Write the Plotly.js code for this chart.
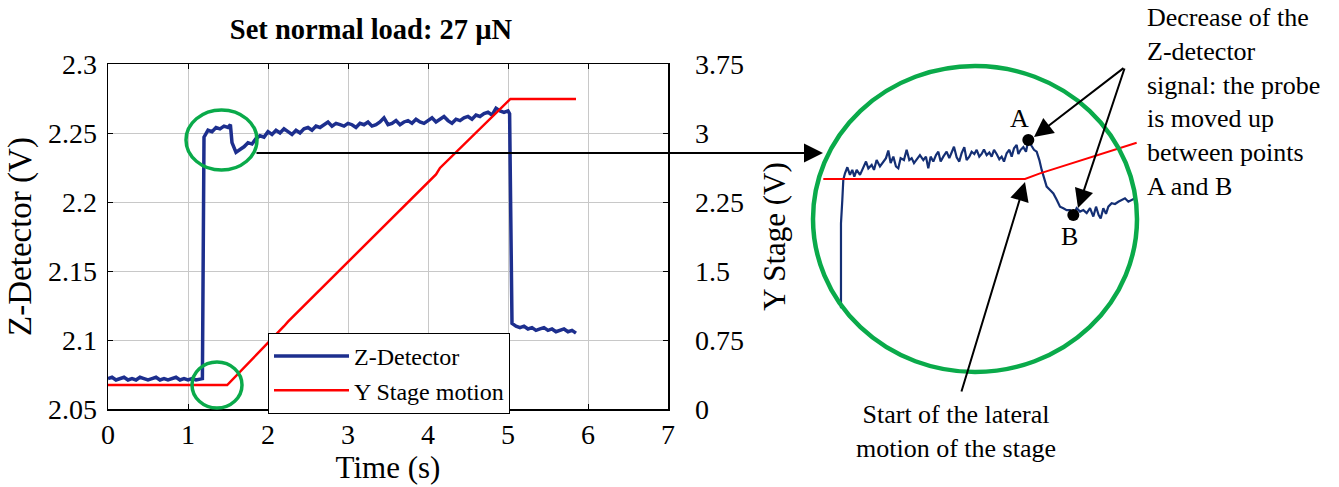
<!DOCTYPE html>
<html>
<head>
<meta charset="utf-8">
<script src="https://cdn.plot.ly/plotly-3.0.1.min.js"></script>
<style>html,body{margin:0;padding:0;background:#fff;}#chart{width:1339px;height:487px;}</style>
</head>
<body>
<div id="chart"></div>
<script>
// ---- Main chart data ----
const time = [0.00,0.05,0.10,0.15,0.20,0.25,0.30,0.35,0.40,0.45,0.50,0.55,0.60,0.65,0.70,0.75,0.80,0.85,0.90,0.95,1.00,1.05,1.10,1.15,1.18,
  1.20,1.25,1.30,1.35,1.40,1.45,1.50,1.53,1.55,1.60,1.65,1.70,1.75,1.80,1.85,1.90,1.95,2.00,2.05,2.10,2.15,2.20,2.25,2.30,2.35,2.40,2.45,
  2.50,2.55,2.60,2.65,2.70,2.75,2.80,2.85,2.90,2.95,3.00,3.05,3.10,3.15,3.20,3.25,3.30,3.35,3.40,3.45,3.50,3.55,3.60,3.65,3.70,3.75,
  3.80,3.85,3.90,3.95,4.00,4.05,4.10,4.15,4.20,4.25,4.30,4.35,4.40,4.45,4.50,4.55,4.60,4.65,4.70,4.75,4.80,4.85,4.90,4.95,5.00,5.02,
  5.05,5.10,5.15,5.20,5.25,5.30,5.35,5.40,5.45,5.50,5.55,5.60,5.65,5.70,5.75,5.80,5.85];
const zDetector = [2.072,2.073,2.071,2.072,2.073,2.071,2.072,2.071,2.073,2.072,2.071,2.072,2.073,2.071,2.072,2.071,2.072,2.073,2.071,2.072,2.071,2.072,2.071,2.072,2.072,
  2.247,2.252,2.251,2.254,2.253,2.255,2.254,2.256,2.243,2.236,2.238,2.240,2.243,2.242,2.246,2.248,2.247,2.251,2.249,2.252,2.250,2.253,2.251,2.249,2.252,2.250,2.253,
  2.254,2.252,2.255,2.254,2.256,2.258,2.255,2.257,2.256,2.255,2.257,2.256,2.254,2.257,2.256,2.258,2.255,2.256,2.258,2.261,2.256,2.257,2.259,2.256,2.258,2.259,
  2.257,2.260,2.258,2.257,2.259,2.261,2.258,2.260,2.262,2.259,2.257,2.260,2.259,2.261,2.262,2.260,2.263,2.262,2.264,2.265,2.263,2.268,2.266,2.265,2.266,2.264,
  2.112,2.110,2.109,2.110,2.108,2.109,2.107,2.108,2.109,2.107,2.108,2.106,2.107,2.108,2.106,2.107,2.105];
const stageTime = [0.00,1.49,2.20,2.25,4.10,4.15,5.03,5.85];
const stageV    = [0.26,0.26,0.90,0.95,2.55,2.62,3.37,3.37];

// ---- Zoomed view (inset in circle) ----
const zoomTime = [1.1848,1.1848,1.1871,1.1888,1.1917,1.1957,1.2002,1.2042,1.2077,1.2117,1.2174,1.2231,1.2277,1.2317,1.2374,1.2414,1.2459,1.2516,1.2574,1.2619,
  1.2659,1.2699,1.2745,1.2790,1.2830,1.2870,1.2927,1.2973,1.3019,1.3059,1.3099,1.3144,1.3201,1.3259,1.3304,1.3344,1.3384,1.3430,1.3476,1.3516,
  1.3556,1.3601,1.3658,1.3704,1.3744,1.3784,1.3830,1.3875,1.3915,1.3961,1.4001,1.4047,1.4087,1.4133,1.4173,1.4218,1.4258,1.4298,1.4344,1.4390,
  1.4430,1.4470,1.4515,1.4561,1.4601,1.4641,1.4687,1.4733,1.4773,1.4813,1.4858,1.4887,1.4927,1.4973,1.5018,1.5058,1.5115,1.5155,1.5201,1.5247,
  1.5287,1.5327,1.5372,1.5430,1.5487,1.5544,1.5601,1.5658,1.5715,1.5772,1.5829,1.5886,1.5944,1.6001,1.6058,1.6115,1.6172,1.6218,1.6263,1.6298,
  1.6343,1.6389,1.6429,1.6486,1.6543,1.6600,1.6657,1.6714,1.6772,1.6829,1.6886];
const zoomZ = [2.2120,2.2344,2.2406,2.2459,2.2476,2.2492,2.2472,2.2485,2.2467,2.2485,2.2472,2.2494,2.2507,2.2489,2.2498,2.2485,2.2511,2.2494,2.2507,2.2516,
  2.2536,2.2503,2.2520,2.2494,2.2489,2.2516,2.2511,2.2538,2.2511,2.2516,2.2503,2.2513,2.2524,2.2511,2.2520,2.2489,2.2520,2.2507,2.2524,2.2533,
  2.2507,2.2520,2.2533,2.2516,2.2529,2.2546,2.2518,2.2507,2.2529,2.2545,2.2511,2.2520,2.2533,2.2527,2.2538,2.2520,2.2527,2.2539,2.2524,2.2531,
  2.2520,2.2538,2.2527,2.2513,2.2520,2.2507,2.2529,2.2538,2.2520,2.2542,2.2551,2.2527,2.2538,2.2545,2.2533,2.2564,2.2548,2.2538,2.2533,2.2511,
  2.2485,2.2463,2.2441,2.2432,2.2423,2.2406,2.2388,2.2384,2.2379,2.2379,2.2366,2.2384,2.2375,2.2379,2.2371,2.2384,2.2362,2.2388,2.2366,2.2357,
  2.2384,2.2369,2.2388,2.2397,2.2395,2.2401,2.2406,2.2410,2.2401,2.2406,2.2410];
const zoomStageTime = [1.1545,1.5001,1.5258,1.6914];
const zoomStage     = [0.26,0.26,0.285,0.42];
const pointTime   = [1.5058,1.5829];
const pointZ      = [2.2564,2.2366];
const pointLabels = ['A','B'];

const FONT = 'Liberation Serif';
const W = 1339, H = 487;
const px = v => v / W;          // pixel -> paper x
const py = v => 1 - v / H;      // pixel -> paper y

const traces = [
  {x: time, y: zDetector, xaxis: 'x', yaxis: 'y', mode: 'lines', name: 'Z-Detector',
   line: {color: '#1d2f8e', width: 3.5}},
  {x: stageTime, y: stageV, xaxis: 'x', yaxis: 'y2', mode: 'lines', name: 'Y Stage motion',
   line: {color: '#ff0000', width: 2.5}},
  {x: zoomTime, y: zoomZ, xaxis: 'x2', yaxis: 'y3', mode: 'lines', showlegend: false,
   line: {color: '#142f74', width: 2.2}},
  {x: zoomStageTime, y: zoomStage, xaxis: 'x2', yaxis: 'y4', mode: 'lines', showlegend: false,
   line: {color: '#ff0000', width: 2}},
  {x: pointTime, y: pointZ, xaxis: 'x2', yaxis: 'y3', mode: 'markers', showlegend: false,
   marker: {color: '#000', size: 12}}
];

const axisCommon = {
  ticks: 'inside', ticklen: 5, tickcolor: '#000', showline: true, linecolor: '#000', linewidth: 1.5,
  zeroline: false, tickfont: {family: FONT, size: 28, color: '#000'}
};

const arrow = {xref: 'paper', yref: 'paper', text: '', showarrow: true,
               arrowhead: 2, arrowsize: 1.9, arrowwidth: 2, arrowcolor: '#000'};

const layout = {
  width: W, height: H,
  margin: {l: 0, r: 0, t: 0, b: 0},
  paper_bgcolor: '#fff', plot_bgcolor: '#fff',
  font: {family: FONT, color: '#000'},
  title: {text: '<b>Set normal load: 27 µN</b>', x: px(371), xref: 'paper', xanchor: 'center',
          y: py(29), yref: 'paper', yanchor: 'middle', font: {family: FONT, size: 28.5, color: '#000'}},
  xaxis: Object.assign({}, axisCommon, {
    domain: [px(108), px(668)], range: [0, 7], dtick: 1, tick0: 0, anchor: 'y', mirror: 'ticks',
    showgrid: true, gridcolor: '#c8c8c8', gridwidth: 1,
    title: {text: 'Time (s)', font: {family: FONT, size: 31, color: '#000'}, standoff: 6}
  }),
  yaxis: Object.assign({}, axisCommon, {
    domain: [py(409), py(64)], range: [2.05, 2.3], dtick: 0.05, tick0: 2.05, anchor: 'x', mirror: 'ticks',
    showgrid: true, gridcolor: '#c8c8c8', gridwidth: 1, ticklabelstandoff: 4,
    title: {text: 'Z-Detector (V)', font: {family: FONT, size: 33, color: '#000'}, standoff: 6}
  }),
  yaxis2: Object.assign({}, axisCommon, {
    overlaying: 'y', side: 'right', anchor: 'x', range: [0, 3.75], dtick: 0.75, tick0: 0, showgrid: false,
    ticklabelstandoff: 20,
    title: {text: 'Y Stage (V)', font: {family: FONT, size: 31, color: '#000'}, standoff: 20}
  }),
  xaxis2: {domain: [px(823), px(1137)], range: [1.154, 1.692], visible: false, anchor: 'y3', fixedrange: true},
  yaxis3: {domain: [py(372), py(66)], range: [2.1952, 2.2759], visible: false, anchor: 'x2', fixedrange: true},
  yaxis4: {overlaying: 'y3', range: [-0.59, 0.758], visible: false, anchor: 'x2', fixedrange: true},
  legend: {x: px(268), y: py(333), xanchor: 'left', yanchor: 'top', bgcolor: '#fff',
           bordercolor: '#000', borderwidth: 1, font: {family: FONT, size: 24, color: '#000'},
           itemwidth: 75, tracegroupgap: 0},
  shapes: [
    {type: 'circle', xref: 'paper', yref: 'paper', x0: px(186), x1: px(257), y0: py(170), y1: py(110),
     line: {color: '#0aaa4a', width: 3.5}},
    {type: 'circle', xref: 'paper', yref: 'paper', x0: px(192), x1: px(242), y0: py(408), y1: py(362),
     line: {color: '#0aaa4a', width: 3.5}},
    {type: 'circle', xref: 'paper', yref: 'paper', x0: px(813), x1: px(1137), y0: py(372), y1: py(66),
     line: {color: '#0aaa4a', width: 4.5}}
  ],
  annotations: [
    Object.assign({}, arrow, {x: px(823), y: py(153), ax: -568, ay: 0}),
    Object.assign({}, arrow, {x: px(1034), y: py(137), ax: 91, ay: -70}),
    Object.assign({}, arrow, {x: px(1078), y: py(208), ax: 47, ay: -141}),
    Object.assign({}, arrow, {x: px(1025), y: py(182), ax: -64, ay: 211}),
    {x: pointTime[0], y: pointZ[0], xref: 'x2', yref: 'y3', text: pointLabels[0], showarrow: false,
     xshift: -9, yshift: 21, font: {family: FONT, size: 26, color: '#000'}},
    {x: pointTime[1], y: pointZ[1], xref: 'x2', yref: 'y3', text: pointLabels[1], showarrow: false,
     xshift: -4, yshift: -21, font: {family: FONT, size: 26, color: '#000'}},
    {x: px(1145), y: py(1), xref: 'paper', yref: 'paper', xanchor: 'left', yanchor: 'top', align: 'left',
     showarrow: false, font: {family: FONT, size: 26, color: '#000'},
     text: 'Decrease of the<br>Z-detector<br>signal: the probe<br>is moved up<br>between points<br>A and B'},
    {x: px(956), y: py(398), xref: 'paper', yref: 'paper', xanchor: 'center', yanchor: 'top', align: 'center',
     showarrow: false, font: {family: FONT, size: 26, color: '#000'},
     text: 'Start of the lateral<br>motion of the stage'}
  ]
};

Plotly.newPlot('chart', traces, layout, {displayModeBar: false, staticPlot: true});
</script>
</body>
</html>
